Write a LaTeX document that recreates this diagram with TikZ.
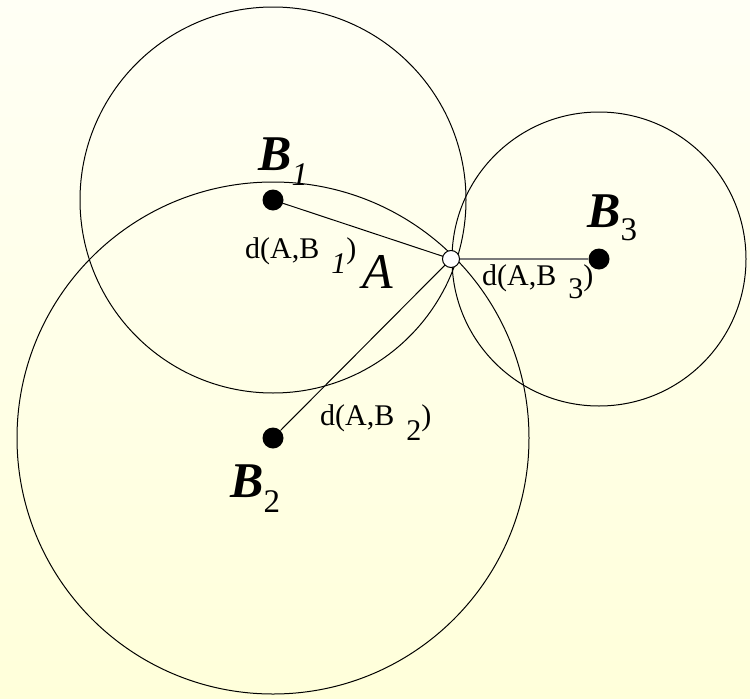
\documentclass[tikz,border=0pt]{standalone}
\usepackage{fontspec}
\setmainfont{Liberation Serif}
\definecolor{bgtop}{HTML}{FFFFF5}
\definecolor{bgbot}{HTML}{FFFFDA}
\definecolor{linkgray}{HTML}{7A7A7A}
\begin{document}
\begin{tikzpicture}[x=1pt,y=-1pt,
  dot/.style={circle,fill=black,inner sep=0pt,minimum size=21pt},
  openpt/.style={circle,draw=black,fill=white,line width=1pt,inner sep=0pt,minimum size=17pt},
  ring/.style={draw=black,line width=1pt},
  link/.style={draw=black,line width=1pt},
  graylink/.style={draw=linkgray,line width=2.4pt},
  biglab/.style={anchor=base west,inner sep=0pt,font=\fontsize{50}{60}\selectfont\bfseries\itshape},
  alab/.style={anchor=base west,inner sep=0pt,font=\fontsize{50}{60}\selectfont\itshape},
  dlab/.style={anchor=base west,inner sep=0pt,font=\fontsize{30}{36}\selectfont}]
\useasboundingbox (0,0) rectangle (750,699);
\shade[top color=bgtop,bottom color=bgbot] (0,0) rectangle (750,699);

% points
\node[dot] (B1) at (273,200) {};
\node[dot] (B2) at (273,438) {};
\node[dot] (B3) at (599,259) {};
\coordinate (Ac) at (451,259);

% circles
\draw[ring] (B1.center) circle[radius=193];
\draw[ring] (B2.center) circle[radius=256];
\draw[ring] (B3.center) circle[radius=147];

% connectors
\draw[link] (B1) -- (Ac);
\draw[link] (B2) -- (Ac);
\draw[graylink] (Ac) -- (B3);
\node[openpt] (A) at (Ac) {};

% labels
\node[biglab] (lB1) at (258,170) {B\raisebox{-15pt}{\fontsize{33}{40}\selectfont\mdseries 1}};
\node[biglab] (lB2) at (230,497) {B\raisebox{-15pt}{\fontsize{33}{40}\selectfont\mdseries\upshape 2}};
\node[biglab] (lB3) at (587,227) {B\raisebox{-13pt}{\fontsize{33}{40}\selectfont\mdseries\upshape 3}};
\node[alab] (lA) at (362,288) {A};

\node[dlab] (d1) at (245,258) {d(A,B\hspace{0.4em}\raisebox{-15pt}{\itshape 1})};
\node[dlab] (d2) at (320,425) {d(A,B\hspace{0.4em}\raisebox{-15pt}{2})};
\node[dlab] (d3) at (482,285) {d(A,B\hspace{0.4em}\raisebox{-13pt}{3})};
\end{tikzpicture}
\end{document}
